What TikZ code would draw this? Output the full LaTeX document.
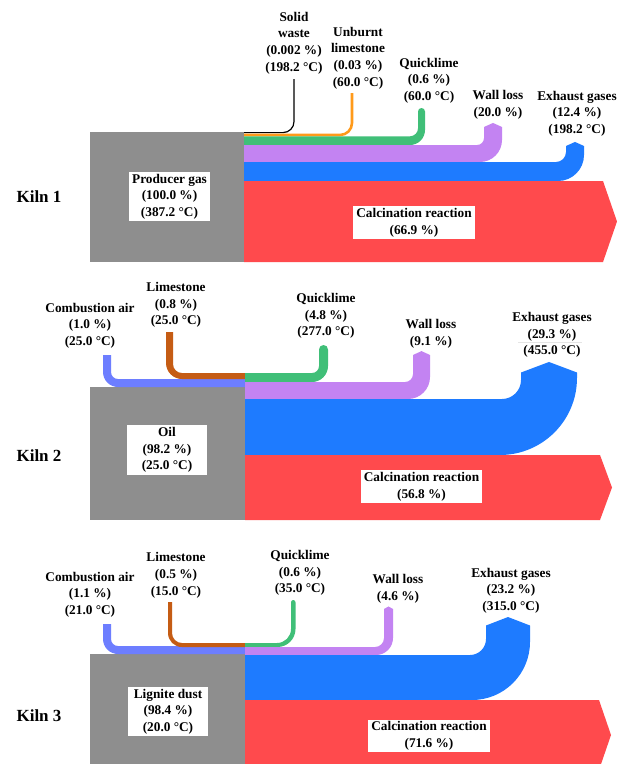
\documentclass[tikz,border=0pt]{standalone}
\usepackage{fontspec}
\setmainfont{Liberation Serif}
\definecolor{cgray}{HTML}{8E8E8E}
\definecolor{corange}{HTML}{FF9A1A}
\definecolor{cgreen}{HTML}{40BF78}
\definecolor{cpurple}{HTML}{C383F2}
\definecolor{cblue}{HTML}{1E7BFF}
\definecolor{cred}{HTML}{FF4A4D}
\definecolor{cviolet}{HTML}{6D7EFF}
\definecolor{cbrown}{HTML}{C55C14}
% outgoing band turning up, pointed cap: color,x0,t,b,xl,xr,ytop,ri,ro
\newcommand{\bandpt}[9]{%
 \fill[#1] (#2,#3) -- ({#5-#8},#3) .. controls ({#5-0.448*#8},#3) and (#5,{#3-0.448*#8}) .. (#5,{#3-#8})
 -- (#5,#7) -- ({(#5+#6)/2},{#7-0.17*(#6-#5)-1}) -- (#6,#7)
 -- (#6,{#4-#9}) .. controls (#6,{#4-0.448*#9}) and ({#6-0.448*#9},#4) .. ({#6-#9},#4) -- (#2,#4) -- cycle;}
% outgoing band turning up, round cap
\newcommand{\bandrd}[9]{%
 \fill[#1] (#2,#3) -- ({#5-#8},#3) .. controls ({#5-0.448*#8},#3) and (#5,{#3-0.448*#8}) .. (#5,{#3-#8})
 -- (#5,{#7+(#6-#5)/2}) .. controls (#5,{#7+0.224*(#6-#5)}) and ({#5+0.224*(#6-#5)},#7) .. ({(#5+#6)/2},#7)
 .. controls ({#6-0.224*(#6-#5)},#7) and (#6,{#7+0.224*(#6-#5)}) .. (#6,{#7+(#6-#5)/2})
 -- (#6,{#4-#9}) .. controls (#6,{#4-0.448*#9}) and ({#6-0.448*#9},#4) .. ({#6-#9},#4) -- (#2,#4) -- cycle;}
% incoming band coming down: color,xl,xr,ytop,t,b,x1,ri,ro
\newcommand{\bandin}[9]{%
 \fill[#1] (#2,#4) -- (#2,{#6-#9}) .. controls (#2,{#6-0.448*#9}) and ({#2+0.448*#9},#6) .. ({#2+#9},#6)
 -- (#7,#6) -- (#7,#5) -- ({#3+#8},#5) .. controls ({#3+0.448*#8},#5) and (#3,{#5-0.448*#8}) .. (#3,{#5-#8})
 -- (#3,#4) -- cycle;}
% calcination arrow: x0,t,b,xc,xp
\newcommand{\calcarrow}[5]{%
 \fill[cred] (#1,#2) -- (#4,#2) -- (#5,{(#2+#3)/2}) -- (#4,#3) -- (#1,#3) -- cycle;}
\tikzset{
 lbl/.style={font=\fontsize{13.3}{16.6}\selectfont\bfseries, align=center, inner sep=0pt},
 wbox/.style={lbl, fill=white, inner xsep=3pt, inner ysep=2pt},
 srcbox/.style={wbox, minimum width=80pt},
 kiln/.style={font=\fontsize{17}{20}\selectfont\bfseries, inner sep=0pt},
}
\begin{document}
\begin{tikzpicture}[x=1pt,y=-1pt]
\clip (0,0) rectangle (617,764);
\fill[white] (0,0) rectangle (617,764);
% ---------------- Kiln 1
\fill[cgray] (90,132) rectangle (244,262);
\draw[black, line width=1.2pt, rounded corners=11] (244,132.6) -- (294,132.6) -- (294,79);
\draw[corange, line width=2.6pt, rounded corners=12] (244,135) -- (352,135) -- (352,93);
\bandrd{cgreen}{244}{136.3}{145}{418}{425}{108}{8}{15}
\bandpt{cpurple}{244}{145}{162}{484}{502}{127}{7}{22}
\bandpt{cblue}{244}{162}{181}{566}{584}{146}{10}{26}
\calcarrow{244}{181}{262}{603}{617}
\node[kiln] (k1) at (39,197) {Kiln 1};
\node[wbox] (k1src) at (169.5,196.5) {Producer gas\\(100.0 \%)\\(387.2 °C)};
\node[wbox] (k1calc) at (414,222.5) {Calcination reaction\\(66.9 \%)};
\node[lbl] (k1sw) at (294,43) {Solid\\waste\\(0.002 \%)\\(198.2 °C)};
\node[lbl] (k1ul) at (358,58) {Unburnt\\limestone\\(0.03 \%)\\(60.0 °C)};
\node[lbl] (k1ql) at (429,80.5) {Quicklime\\(0.6 \%)\\(60.0 °C)};
\node[lbl] (k1wl) at (498,105) {Wall loss\\(20.0 \%)};
\node[lbl] (k1ex) at (577,113.5) {Exhaust gases\\(12.4 \%)\\(198.2 °C)};
% ---------------- Kiln 2
\fill[cgray] (90,387) rectangle (245,520);
\bandin{cviolet}{103}{111}{355}{379}{387}{245}{7}{15}
\bandin{cbrown}{166}{173}{332}{373}{379}{245}{9}{16}
\bandrd{cgreen}{245}{373}{382}{319}{328}{345}{7}{16}
\bandpt{cpurple}{245}{382}{399}{413}{430}{355}{8}{22}
\bandpt{cblue}{245}{399}{455}{521}{577}{372.5}{19}{77}
\calcarrow{245}{455}{520}{600}{612}
\node[kiln] (k2) at (39,456) {Kiln 2};
\node[srcbox] (k2src) at (167,450) {Oil\\(98.2 \%)\\(25.0 °C)};
\node[wbox] (k2calc) at (421.5,486.5) {Calcination reaction\\(56.8 \%)};
\node[lbl] (k2ca) at (90,325.7) {Combustion air\\(1.0 \%)\\(25.0 °C)};
\node[lbl] (k2ls) at (176,305) {Limestone\\(0.8 \%)\\(25.0 °C)};
\node[lbl] (k2ql) at (326,316) {Quicklime\\(4.8 \%)\\(277.0 °C)};
\node[lbl] (k2wl) at (431,333.5) {Wall loss\\(9.1 \%)};
\node[lbl] (k2ex) at (552,335) {Exhaust gases\\(29.3 \%)\\(455.0 °C)};
\draw[black!10, line width=0.5pt] (518,342.3) -- (582,342.3);
% ---------------- Kiln 3
\fill[cgray] (90,654) rectangle (245,770);
\bandin{cviolet}{103}{111}{624}{646}{654}{245}{7}{15}
\bandin{cbrown}{168}{172}{602}{643}{647}{245}{10}{14}
\bandrd{cgreen}{245}{643}{647}{291}{295.5}{600}{14}{18}
\bandpt{cpurple}{245}{647}{655}{384}{393}{609}{9}{17}
\bandpt{cblue}{245}{655}{700}{486}{530}{625.5}{16}{58}
\calcarrow{245}{700}{770}{599}{611}
\node[kiln] (k3) at (39,716) {Kiln 3};
\node[srcbox] (k3src) at (168,711.5) {Lignite dust\\(98.4 \%)\\(20.0 °C)};
\node[wbox] (k3calc) at (429,736) {Calcination reaction\\(71.6 \%)};
\node[lbl] (k3ca) at (90,594.7) {Combustion air\\(1.1 \%)\\(21.0 °C)};
\node[lbl] (k3ls) at (176,575.3) {Limestone\\(0.5 \%)\\(15.0 °C)};
\node[lbl] (k3ql) at (300,573) {Quicklime\\(0.6 \%)\\(35.0 °C)};
\node[lbl] (k3wl) at (398,589) {Wall loss\\(4.6 \%)};
\node[lbl] (k3ex) at (511,590.7) {Exhaust gases\\(23.2 \%)\\(315.0 °C)};
\end{tikzpicture}
\end{document}
